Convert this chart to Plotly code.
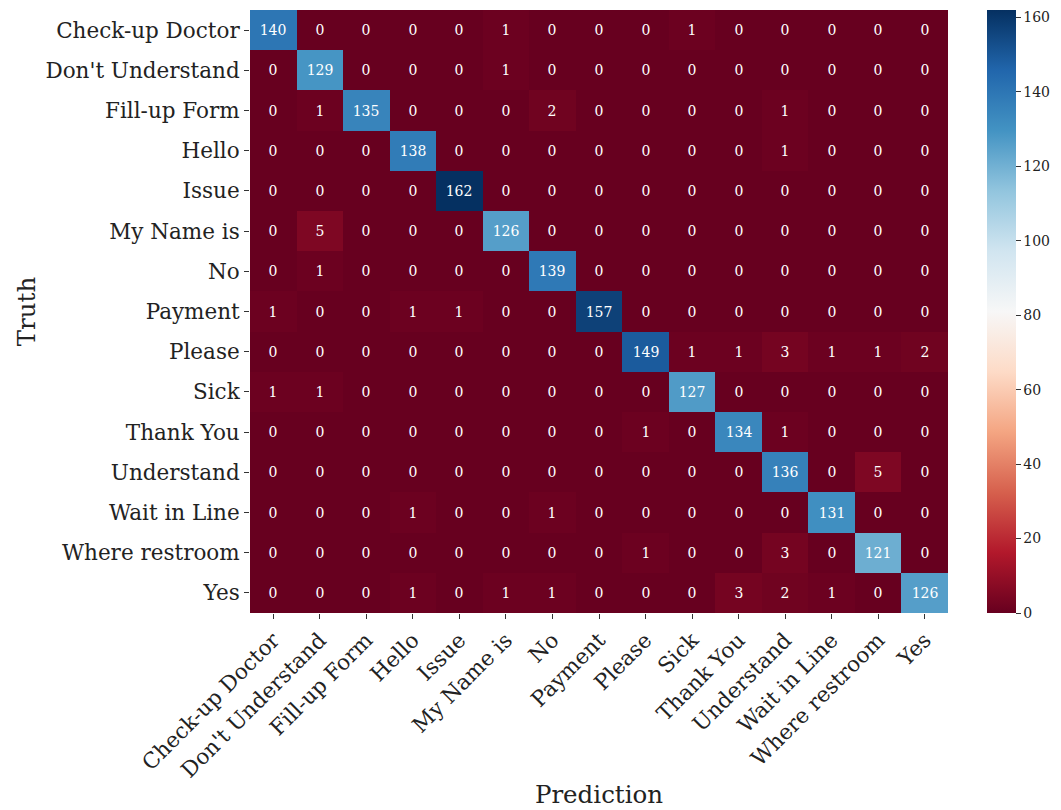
import plotly.graph_objects as go

labels = ["Check-up Doctor", "Don't Understand", "Fill-up Form", "Hello", "Issue",
          "My Name is", "No", "Payment", "Please", "Sick", "Thank You",
          "Understand", "Wait in Line", "Where restroom", "Yes"]

# rows = truth, columns = prediction
row_check_up   = [140, 0, 0, 0, 0, 1, 0, 0, 0, 1, 0, 0, 0, 0, 0]
row_dont_under = [0, 129, 0, 0, 0, 1, 0, 0, 0, 0, 0, 0, 0, 0, 0]
row_fill_up    = [0, 1, 135, 0, 0, 0, 2, 0, 0, 0, 0, 1, 0, 0, 0]
row_hello      = [0, 0, 0, 138, 0, 0, 0, 0, 0, 0, 0, 1, 0, 0, 0]
row_issue      = [0, 0, 0, 0, 162, 0, 0, 0, 0, 0, 0, 0, 0, 0, 0]
row_my_name    = [0, 5, 0, 0, 0, 126, 0, 0, 0, 0, 0, 0, 0, 0, 0]
row_no         = [0, 1, 0, 0, 0, 0, 139, 0, 0, 0, 0, 0, 0, 0, 0]
row_payment    = [1, 0, 0, 1, 1, 0, 0, 157, 0, 0, 0, 0, 0, 0, 0]
row_please     = [0, 0, 0, 0, 0, 0, 0, 0, 149, 1, 1, 3, 1, 1, 2]
row_sick       = [1, 1, 0, 0, 0, 0, 0, 0, 0, 127, 0, 0, 0, 0, 0]
row_thank_you  = [0, 0, 0, 0, 0, 0, 0, 0, 1, 0, 134, 1, 0, 0, 0]
row_understand = [0, 0, 0, 0, 0, 0, 0, 0, 0, 0, 0, 136, 0, 5, 0]
row_wait       = [0, 0, 0, 1, 0, 0, 1, 0, 0, 0, 0, 0, 131, 0, 0]
row_restroom   = [0, 0, 0, 0, 0, 0, 0, 0, 1, 0, 0, 3, 0, 121, 0]
row_yes        = [0, 0, 0, 1, 0, 1, 1, 0, 0, 0, 3, 2, 1, 0, 126]

matrix = [row_check_up, row_dont_under, row_fill_up, row_hello, row_issue,
          row_my_name, row_no, row_payment, row_please, row_sick,
          row_thank_you, row_understand, row_wait, row_restroom, row_yes]

colorbar_ticks = [0, 20, 40, 60, 80, 100, 120, 140, 160]

# ColorBrewer RdBu (red at low values, blue at high values)
rdbu = ["#67001f", "#b2182b", "#d6604d", "#f4a582", "#fddbc7", "#f7f7f7",
        "#d1e5f0", "#92c5de", "#4393c3", "#2166ac", "#053061"]
colorscale = [[i / (len(rdbu) - 1), c] for i, c in enumerate(rdbu)]

serif = "DejaVu Serif"

fig = go.Figure(go.Heatmap(
    z=matrix,
    x=labels,
    y=labels,
    colorscale=colorscale,
    zmin=0,
    zmax=max(max(r) for r in matrix),
    text=matrix,
    texttemplate="%{text}",
    textfont=dict(family=serif, size=14, color="white"),
    xgap=0, ygap=0,
    colorbar=dict(
        x=1.056, xanchor="left", xpad=0,
        y=0.5, yanchor="middle", len=1, lenmode="fraction", ypad=0,
        thickness=29, outlinewidth=0,
        tickvals=colorbar_ticks,
        ticks="outside", ticklen=5, tickcolor="#333",
        tickfont=dict(family=serif, size=14, color="#222"),
    ),
    hoverongaps=False,
))

fig.update_layout(
    width=1061, height=810,
    margin=dict(l=250, r=113, t=10, b=197, autoexpand=False),
    paper_bgcolor="white",
    plot_bgcolor="white",
    font=dict(family=serif, color="#222"),
    xaxis=dict(
        title=dict(text="Prediction", font=dict(family=serif, size=24.5), standoff=4),
        tickangle=-45,
        tickfont=dict(family=serif, size=21.5),
        ticks="outside", ticklen=5, tickcolor="#333",
        showgrid=False, zeroline=False, automargin=False,
    ),
    yaxis=dict(
        title=dict(text="Truth", font=dict(family=serif, size=24.5), standoff=2),
        autorange="reversed",
        tickfont=dict(family=serif, size=21.5),
        ticks="outside", ticklen=5, tickcolor="#333",
        showgrid=False, zeroline=False, automargin=False,
    ),
)

fig.write_html("out.html")
